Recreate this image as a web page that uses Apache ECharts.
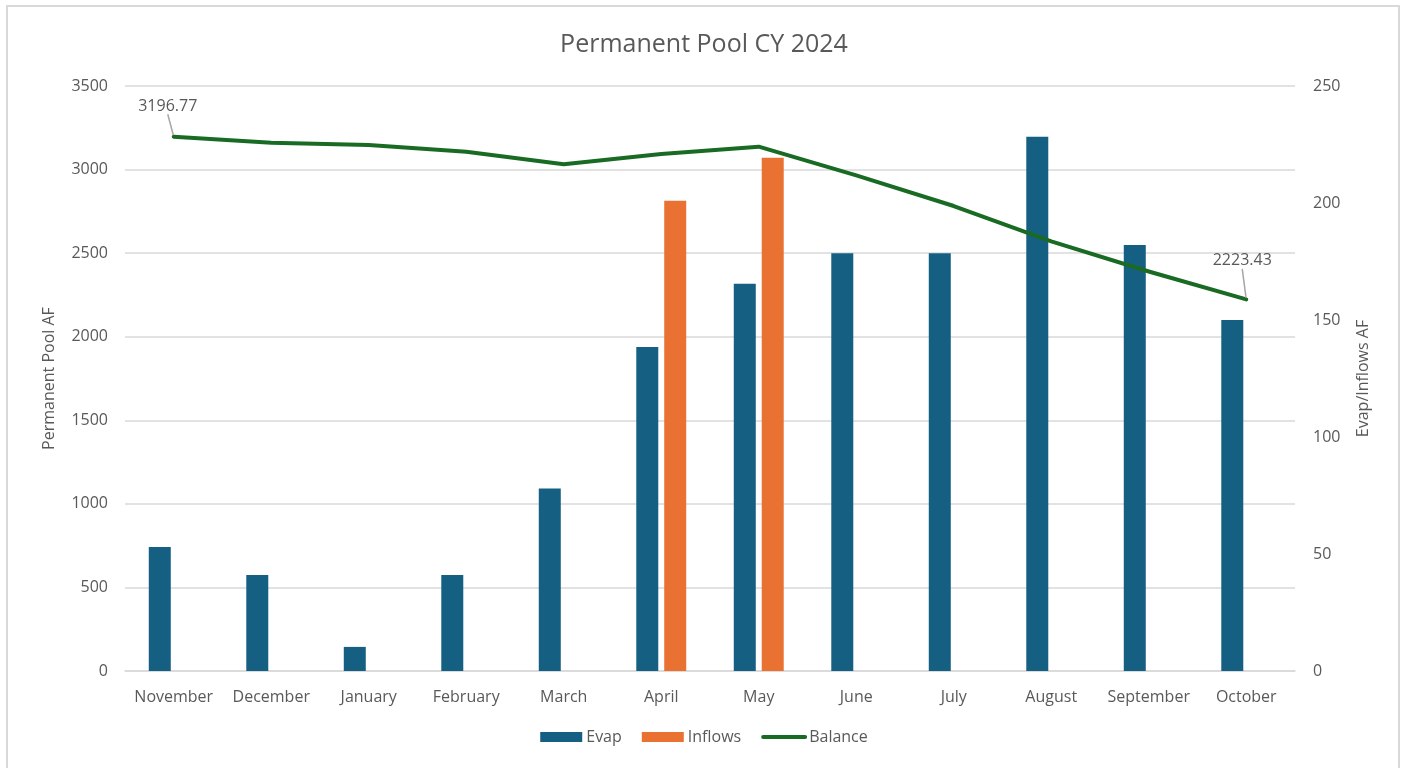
<!DOCTYPE html>
<html>
<head>
<meta charset="utf-8">
<title>Permanent Pool CY 2024</title>
<script src="https://cdn.jsdelivr.net/npm/echarts@6/dist/echarts.min.js"></script>
<style>
  html, body { margin: 0; padding: 0; background: #fff; }
  #frame { position: absolute; left: 6px; top: 5px; width: 1394px; height: 780px; border: 2px solid #d9d9d9; box-sizing: border-box; }
  #container { position: absolute; left: 0; top: 0; width: 1408px; height: 768px; }
</style>
</head>
<body>
<div id="frame"></div>
<div id="container"></div>
<script>
// chart data
var months = ['November','December','January','February','March','April','May','June','July','August','September','October'];
var evap = [53, 41, 10.3, 41, 78, 138.5, 165.5, 178.5, 178.5, 228.3, 182, 150];
var inflows = [null, null, null, null, null, 201, 219.3, null, null, null, null, null];
var balance = [3196.77, 3161, 3147, 3107, 3032, 3093, 3137, 2965, 2782, 2570, 2390, 2223.43];

var leftTicks = {min: 0, max: 3500, interval: 500};
var rightTicks = {min: 0, max: 250, interval: 50};

var txt = '#595959';
var fontName = 'Open Sans';

// balance points, only first and last carry a label
var balData = [];
for (var i = 0; i < balance.length; i++) {
    if (i === 0 || i === balance.length - 1) {
        balData.push({
            value: balance[i],
            symbol: 'circle',
            symbolSize: 3,
            label: {show: true},
            labelLine: {show: true}
        });
    } else {
        balData.push(balance[i]);
    }
}

var dom = document.getElementById('container');
var myChart = echarts.init(dom);

var option = {
    animation: false,
    textStyle: {fontFamily: fontName},
    title: {
        text: 'Permanent Pool CY 2024',
        left: 'center',
        top: 27,
        textStyle: {fontFamily: fontName, fontSize: 25, fontWeight: 'normal', color: txt}
    },
    legend: {
        bottom: 18,
        left: 'center',
        itemWidth: 42,
        itemHeight: 10,
        itemGap: 20,
        textStyle: {fontFamily: fontName, fontSize: 16, color: txt, padding: [0, 0, 0, -1]},
        data: [
            {name: 'Evap', icon: 'rect'},
            {name: 'Inflows', icon: 'rect'},
            {name: 'Balance', itemStyle: {opacity: 0}, lineStyle: {width: 4, cap: 'round'}}
        ]
    },
    grid: {left: 125, right: 113, top: 86, bottom: 97, containLabel: false},
    xAxis: {
        type: 'category',
        data: months,
        axisLine: {lineStyle: {color: '#d9d9d9', width: 1.5}},
        axisTick: {show: false},
        axisLabel: {color: txt, fontSize: 16, margin: 18, interval: 0}
    },
    yAxis: [
        {
            type: 'value',
            min: leftTicks.min, max: leftTicks.max, interval: leftTicks.interval,
            name: 'Permanent Pool AF',
            nameLocation: 'middle',
            nameGap: 68,
            nameRotate: 90,
            nameTextStyle: {color: txt, fontSize: 16},
            axisLine: {show: false},
            axisTick: {show: false},
            axisLabel: {color: txt, fontSize: 16, margin: 17, formatter: function (v) { return String(v); }},
            splitLine: {lineStyle: {color: '#d9d9d9', width: 1.5}}
        },
        {
            type: 'value',
            min: rightTicks.min, max: rightTicks.max, interval: rightTicks.interval,
            name: 'Evap/Inflows AF',
            nameLocation: 'middle',
            nameGap: 60,
            nameRotate: 90,
            nameTextStyle: {color: txt, fontSize: 16},
            axisLine: {show: false},
            axisTick: {show: false},
            axisLabel: {color: txt, fontSize: 16, margin: 18},
            splitLine: {show: false}
        }
    ],
    series: [
        {
            name: 'Evap',
            type: 'bar',
            yAxisIndex: 1,
            barWidth: 22,
            barGap: '27%',
            itemStyle: {color: '#156082'},
            data: evap
        },
        {
            name: 'Inflows',
            type: 'bar',
            yAxisIndex: 1,
            barWidth: 22,
            barGap: '27%',
            itemStyle: {color: '#E97132'},
            data: inflows
        },
        {
            name: 'Balance',
            type: 'line',
            yAxisIndex: 0,
            symbol: 'none',
            showSymbol: true,
            z: 5,
            lineStyle: {color: '#196B24', width: 4, cap: 'round', join: 'round'},
            itemStyle: {color: '#196B24'},
            label: {
                show: false,
                position: 'top',
                color: txt,
                fontSize: 16,
                formatter: function (p) { return p.value.toFixed(2); }
            },
            labelLine: {show: false, lineStyle: {color: '#a6a6a6', width: 1.5}},
            labelLayout: function (p) {
                if (p.dataIndex === 0) return {dx: -6, dy: -16};
                return {dx: -4, dy: -24};
            },
            data: balData
        }
    ]
};

if (option && typeof option === 'object') {
    myChart.setOption(option, true);
}
</script>
</body>
</html>
